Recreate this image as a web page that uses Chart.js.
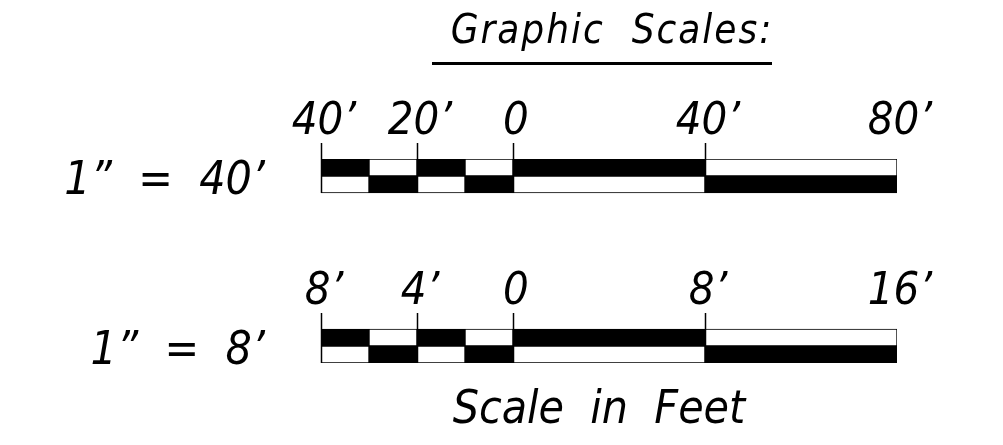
<!DOCTYPE html>
<html>
<head>
<meta charset="utf-8">
<script src="https://cdn.jsdelivr.net/npm/chart.js@4/dist/chart.umd.min.js"></script>
<style>
  html, body { margin: 0; padding: 0; background: #fff; }
  #wrap { width: 1003px; height: 445px; }
</style>
</head>
<body>
<div id="wrap"><canvas id="c" width="1003" height="445"></canvas></div>
<script>
// ---- data ----
const titleText = "Graphic  Scales:";
const captionText = "Scale  in  Feet";
const ratioLabels = ["1”  =  40’", "1”  =  8’"];

const scaleABreaks = [-40, -30, -20, -10, 0, 40, 80];
const scaleATickValues = [-40, -20, 0, 40, 80];
const scaleATickLabels = ["40’", "20’", "0", "40’", "80’"];

const scaleBBreaks = [-8, -6, -4, -2, 0, 8, 16];
const scaleBTickValues = [-8, -4, 0, 8, 16];
const scaleBTickLabels = ["8’", "4’", "0", "8’", "16’"];

const rowCategories = ["A-top", "A-bottom", "g1", "g2", "g3", "g4", "g5", "g6", "g7", "g8", "B-top", "B-bottom"];

// ---- build datasets ----
const BLACK = "#000000", WHITE = "#ffffff";
function buildDatasets(breaks, axisId, topRow) {
  const sets = [];
  for (let i = 0; i < breaks.length - 1; i++) {
    const data = rowCategories.map(() => null);
    const colors = rowCategories.map(() => WHITE);
    data[topRow] = [breaks[i], breaks[i + 1]];
    data[topRow + 1] = [breaks[i], breaks[i + 1]];
    colors[topRow] = i % 2 === 0 ? BLACK : WHITE;
    colors[topRow + 1] = i % 2 === 0 ? WHITE : BLACK;
    sets.push({
      label: axisId + "-seg" + i,
      data: data,
      xAxisID: axisId,
      backgroundColor: colors,
      borderColor: BLACK,
      borderWidth: 1,
      borderSkipped: false,
      grouped: false,
      barPercentage: 1,
      categoryPercentage: 1
    });
  }
  return sets;
}
const datasets = buildDatasets(scaleABreaks, "x", 0).concat(buildDatasets(scaleBBreaks, "x2", 10));

const FONT = "'DejaVu Sans Condensed', 'DejaVu Sans', sans-serif";

const drawingPlugin = {
  id: "scaleText",
  afterDraw(chart) {
    const ctx = chart.ctx;
    const yScale = chart.scales.y;
    const band = (yScale.getPixelForValue(1) - yScale.getPixelForValue(0));
    const groups = [
      { scale: chart.scales.x, vals: scaleATickValues, labels: scaleATickLabels, row: 0, ratio: ratioLabels[0] },
      { scale: chart.scales.x2, vals: scaleBTickValues, labels: scaleBTickLabels, row: 10, ratio: ratioLabels[1] }
    ];
    ctx.save();
    ctx.fillStyle = "#000";
    ctx.strokeStyle = "#000";
    groups.forEach(g => {
      const barTop = yScale.getPixelForValue(g.row) - band / 2;
      const barBottom = yScale.getPixelForValue(g.row + 1) + band / 2;
      const barMid = (barTop + barBottom) / 2;
      // tick lines
      ctx.lineWidth = 1.5;
      g.vals.forEach((v, i) => {
        if (i === g.vals.length - 1) return;
        const px = Math.round(g.scale.getPixelForValue(v)) + 0.5;
        ctx.beginPath();
        ctx.moveTo(px, barTop - 16);
        ctx.lineTo(px, barBottom);
        ctx.stroke();
      });
      // tick labels
      ctx.font = "italic 45px " + FONT;
      ctx.textAlign = "center";
      ctx.textBaseline = "alphabetic";
      g.vals.forEach((v, i) => {
        const px = g.scale.getPixelForValue(v);
        ctx.fillText(g.labels[i], px + 3, barTop - 25);
      });
      // ratio label
      ctx.font = "italic 46px " + FONT;
      ctx.textAlign = "right";
      ctx.fillText(g.ratio, 265, barMid + 1 + 17);
    });
    // title
    ctx.font = "italic 40px " + FONT;
    ctx.textAlign = "center";
    if ("letterSpacing" in ctx) ctx.letterSpacing = "2px";
    ctx.fillText(titleText, 612, 43);
    if ("letterSpacing" in ctx) ctx.letterSpacing = "0px";
    ctx.fillRect(432, 62, 340, 3);
    // caption
    ctx.font = "italic 46px " + FONT;
    ctx.fillText(captionText, 599, 423);
    ctx.restore();
  }
};

new Chart(document.getElementById("c"), {
  type: "bar",
  data: { labels: rowCategories, datasets: datasets },
  options: {
    indexAxis: "y",
    responsive: false,
    animation: false,
    layout: { padding: { left: 321, right: 106, top: 159, bottom: 82 } },
    plugins: { legend: { display: false }, tooltip: { enabled: false }, title: { display: false } },
    scales: {
      x: { type: "linear", min: -40, max: 80, display: false },
      x2: { type: "linear", min: -8, max: 16, display: false },
      y: { type: "category", display: false, offset: true }
    }
  },
  plugins: [drawingPlugin]
});
</script>
</body>
</html>
